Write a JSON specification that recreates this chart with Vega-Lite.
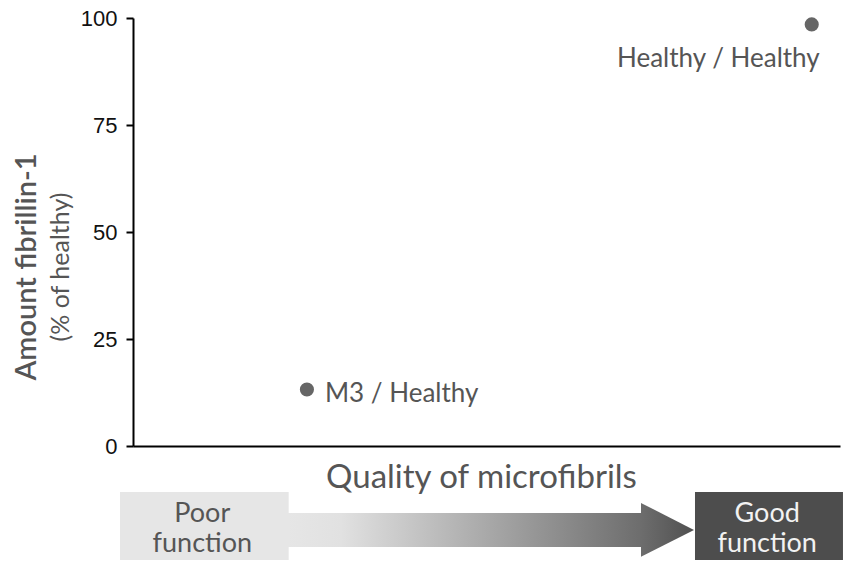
{
  "$schema": "https://vega.github.io/schema/vega-lite/v6.json",
  "autosize": "none",
  "width": 707,
  "height": 428,
  "padding": {"left": 133, "top": 18, "right": 7, "bottom": 115},
  "background": "white",
  "config": {"view": {"stroke": null}},
  "title": {
    "text": "Amount fibrillin-1",
    "subtitle": "(% of healthy)",
    "orient": "left",
    "anchor": "middle",
    "frame": "group",
    "offset": 6,
    "dx": -35,
    "font": "Lato",
    "fontSize": 29,
    "fontWeight": 600,
    "color": "#555555",
    "subtitleFont": "Lato",
    "subtitleFontSize": 25,
    "subtitleColor": "#555555",
    "subtitlePadding": 7
  },
  "datasets": {
    "points": [
      {"quality": 24.6, "amount": 13.2, "pair": "M3 / Healthy"},
      {"quality": 96.0, "amount": 98.5, "pair": "Healthy / Healthy"}
    ],
    "boxes": [
      {"level": "Poor", "q1": -1.84, "q2": 22.02, "a1": -10.75, "a2": -26.64, "qm": 9.8, "am": -17.76, "label": "Poor\nfunction"},
      {"level": "Good", "q1": 79.49, "q2": 100.42, "a1": -10.75, "a2": -26.64, "qm": 89.7, "am": -17.76, "label": "Good\nfunction"}
    ],
    "shaft": [
      {"q1": 21.9, "q2": 71.9, "top": -15.65, "bottom": -23.6}
    ],
    "head": [
      {"q": 71.85, "top": -13.3, "bottom": -25.9},
      {"q": 79.35, "top": -19.6, "bottom": -19.6}
    ]
  },
  "encoding": {
    "x": {
      "type": "quantitative",
      "scale": {"domain": [0, 100], "nice": false, "zero": false},
      "axis": {
        "title": "Quality of microfibrils",
        "titleFont": "Lato",
        "titleFontSize": 33,
        "titleFontWeight": "normal",
        "titleColor": "#555555",
        "titlePadding": 15,
        "titleX": 348,
        "labels": false,
        "ticks": false,
        "grid": false,
        "domainColor": "#000000",
        "domainWidth": 2
      }
    },
    "y": {
      "type": "quantitative",
      "scale": {"domain": [0, 100], "nice": false, "zero": false},
      "axis": {
        "title": null,
        "values": [0, 25, 50, 75, 100],
        "grid": false,
        "domainColor": "#000000",
        "domainWidth": 2,
        "tickColor": "#000000",
        "tickWidth": 2,
        "tickSize": 7,
        "labelFont": "Liberation Sans",
        "labelFontSize": 22,
        "labelColor": "#111111",
        "labelPadding": 9
      }
    }
  },
  "layer": [
    {
      "data": {"name": "boxes"},
      "mark": {"type": "rect"},
      "encoding": {
        "x": {"field": "q1", "type": "quantitative"},
        "x2": {"field": "q2"},
        "y": {"field": "a1", "type": "quantitative"},
        "y2": {"field": "a2"},
        "color": {"condition": {"test": "datum.level === 'Good'", "value": "#4d4d4d"}, "value": "#e6e6e6"}
      }
    },
    {
      "data": {"name": "shaft"},
      "mark": {
        "type": "rect",
        "color": {
          "gradient": "linear",
          "x1": 0, "y1": 0, "x2": 1, "y2": 0,
          "stops": [
            {"offset": 0, "color": "#e6e6e6"},
            {"offset": 0.15, "color": "#e1e1e1"},
            {"offset": 1, "color": "#6d6d6d"}
          ]
        }
      },
      "encoding": {
        "x": {"field": "q1", "type": "quantitative"},
        "x2": {"field": "q2"},
        "y": {"field": "top", "type": "quantitative"},
        "y2": {"field": "bottom"}
      }
    },
    {
      "data": {"name": "head"},
      "mark": {
        "type": "area",
        "color": {
          "gradient": "linear",
          "x1": 0, "y1": 0, "x2": 1, "y2": 0,
          "stops": [
            {"offset": 0, "color": "#6d6d6d"},
            {"offset": 1, "color": "#505050"}
          ]
        }
      },
      "encoding": {
        "x": {"field": "q", "type": "quantitative"},
        "y": {"field": "top", "type": "quantitative"},
        "y2": {"field": "bottom"}
      }
    },
    {
      "data": {"name": "boxes"},
      "mark": {"type": "text", "font": "Lato", "fontSize": 27, "lineBreak": "\n", "lineHeight": 30, "baseline": "alphabetic", "align": "center"},
      "encoding": {
        "x": {"field": "qm", "type": "quantitative"},
        "y": {"field": "am", "type": "quantitative"},
        "text": {"field": "label"},
        "color": {"condition": {"test": "datum.level === 'Good'", "value": "#f2f2f2"}, "value": "#555555"}
      }
    },
    {
      "data": {"name": "points"},
      "mark": {"type": "circle", "size": 200, "color": "#666666", "opacity": 1},
      "encoding": {
        "x": {"field": "quality", "type": "quantitative"},
        "y": {"field": "amount", "type": "quantitative"}
      }
    },
    {
      "data": {"name": "points"},
      "transform": [{"filter": "datum.pair === 'M3 / Healthy'"}],
      "mark": {"type": "text", "font": "Lato", "fontSize": 26, "color": "#555555", "align": "left", "baseline": "alphabetic", "dx": 18, "dy": 12},
      "encoding": {
        "x": {"field": "quality", "type": "quantitative"},
        "y": {"field": "amount", "type": "quantitative"},
        "text": {"field": "pair"}
      }
    },
    {
      "data": {"name": "points"},
      "transform": [{"filter": "datum.pair === 'Healthy / Healthy'"}],
      "mark": {"type": "text", "font": "Lato", "fontSize": 26, "color": "#555555", "align": "right", "baseline": "alphabetic", "dx": 8, "dy": 43},
      "encoding": {
        "x": {"field": "quality", "type": "quantitative"},
        "y": {"field": "amount", "type": "quantitative"},
        "text": {"field": "pair"}
      }
    }
  ]
}
